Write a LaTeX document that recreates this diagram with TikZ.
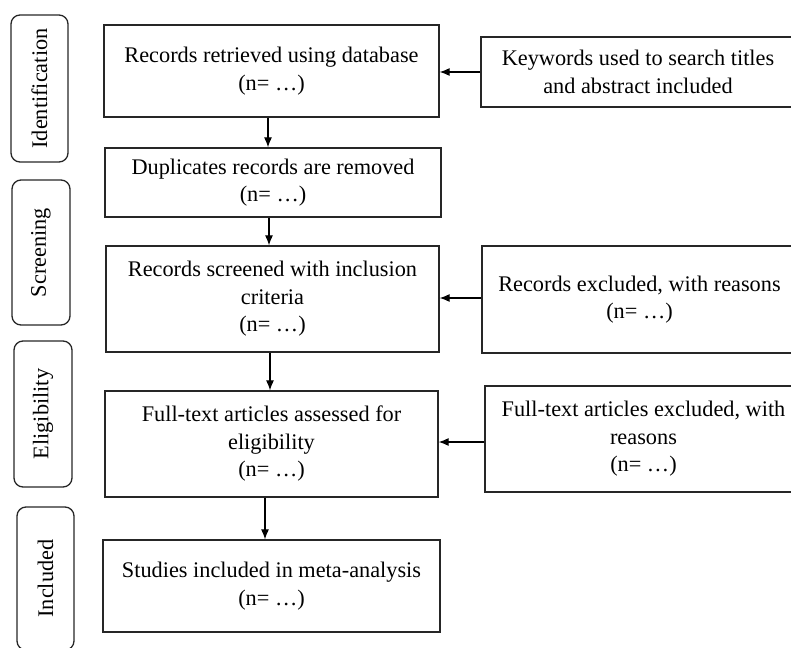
\documentclass[tikz,border=0pt]{standalone}
\usepackage{fontspec}
\setmainfont{Liberation Serif}
\usetikzlibrary{arrows.meta}
\begin{document}
\begin{tikzpicture}[x=1pt,y=-1pt,
  txt/.style={font=\fontsize{22.3}{27.5}\selectfont, align=center},
  box/.style={draw=black!85, line width=1.3pt, txt, inner sep=2pt, anchor=center},
  phase/.style={draw=black!85, line width=1.3pt, rounded corners=9pt, txt, rotate=90, inner sep=2pt, anchor=center},
  arr/.style={line width=1.1pt, -{Latex[length=10pt,width=8pt]}}]
\useasboundingbox (0,0) rectangle (791,647);
\clip (0,0) rectangle (791,647);
% phase labels
\node[phase, minimum width=147pt, minimum height=57pt] (pI) at (39.5,88.5) {Identification};
\node[phase, minimum width=145pt, minimum height=58pt] (pS) at (41,252.5) {Screening};
\node[phase, minimum width=146pt, minimum height=58pt] (pE) at (43,414) {Eligibility};
\node[phase, minimum width=143pt, minimum height=57pt] (pN) at (45.5,578.5) {Included};
% main boxes
\node[box, minimum width=335pt, minimum height=92pt] (b1) at (271.5,71) {Records retrieved using database\\(n= …)};
\node[box, minimum width=336pt, minimum height=69pt] (b2) at (273,182.5) {Duplicates records are removed\\(n= …)};
\node[box, minimum width=333pt, minimum height=106pt] (b3) at (272.5,299) {Records screened with inclusion\\criteria\\(n= …)};
\node[box, minimum width=333pt, minimum height=106pt] (b4) at (271.5,444) {Full-text articles assessed for\\eligibility\\(n= …)};
\node[box, minimum width=337pt, minimum height=92pt] (b5) at (271.5,586) {Studies included in meta-analysis\\(n= …)};
% side boxes
\node[box, minimum width=314pt, minimum height=70pt] (k) at (638,72) {Keywords used to search titles\\and abstract included};
\node[box, minimum width=315pt, minimum height=107pt] (re) at (639.5,299.5) {Records excluded, with reasons\\(n= …)};
\node[box, minimum width=317pt, minimum height=106pt] (fe) at (643.5,439) {Full-text articles excluded, with\\reasons\\(n= …)};
% vertical arrows
\draw[arr] (b1.south -| 268,0) -- (b2.north -| 268,0);
\draw[arr] (b2.south -| 269,0) -- (b3.north -| 269,0);
\draw[arr] (b3.south -| 270,0) -- (b4.north -| 270,0);
\draw[arr] (b4.south -| 265,0) -- (b5.north -| 265,0);
% horizontal arrows
\draw[arr] (k.west) -- (b1.east |- k.west);
\draw[arr] (re.west |- 0,298) -- (b3.east |- 0,298);
\draw[arr] (fe.west |- 0,442) -- (b4.east |- 0,442);
\end{tikzpicture}
\end{document}
